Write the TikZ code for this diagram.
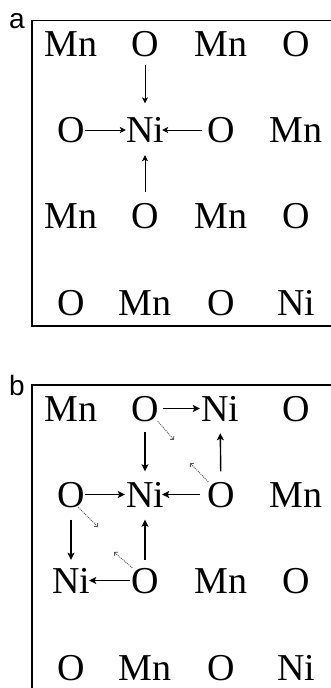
\documentclass[tikz,border=0pt]{standalone}
\usepackage{fontspec}
\setmainfont{Liberation Serif}
\newfontfamily\labelfont{Liberation Sans}
\usetikzlibrary{arrows.meta}
\begin{document}
\begin{tikzpicture}[x=1pt,y=-1pt,
  atom/.style={inner sep=0pt, text height=25pt, text depth=0pt, font=\fontsize{38}{38}\selectfont},
  panellabel/.style={inner sep=0pt, anchor=base west, font=\labelfont\fontsize{28}{28}\selectfont},
  frame/.style={line width=1.4pt},
  arra/.style={line width=0.8pt, -{Stealth[length=6pt,width=6pt,inset=1.5pt]}},
  arrb/.style={line width=1.4pt, -{Stealth[length=7pt,width=7pt,inset=1.5pt]}},
  dotarr/.style={black!65, dash pattern=on 1pt off 1pt, line width=0.9pt, -{Straight Barb[angle=90:3.5pt]}}
]
\useasboundingbox (0,0) rectangle (331,688);

% ---------- panel a ----------
\node[panellabel] (la) at (9,28) {a};
\draw[frame] (331,20.7) -- (32,20.7) -- (32,326) -- (331,326);

\node[atom] (a11) at (71,44) {Mn};
\node[atom] (a12) at (145,44) {O};
\node[atom] (a13) at (221,44) {Mn};
\node[atom] (a14) at (296,44) {O};
\node[atom] (a21) at (71,130) {O};
\node[atom] (a22) at (145,130) {Ni};
\node[atom] (a23) at (221,130) {O};
\node[atom] (a24) at (296,130) {Mn};
\node[atom] (a31) at (71,216) {Mn};
\node[atom] (a32) at (145,216) {O};
\node[atom] (a33) at (221,216) {Mn};
\node[atom] (a34) at (296,216) {O};
\node[atom] (a41) at (71,303) {O};
\node[atom] (a42) at (145,303) {Mn};
\node[atom] (a43) at (221,303) {O};
\node[atom] (a44) at (296,303) {Ni};

\draw[arra, shorten <=8.5pt, shorten >=14pt] (a12) -- (a22);
\draw[arra, shorten <=11.5pt, shorten >=12.5pt] (a32) -- (a22);
\draw[arra, shorten <=0.5pt, shorten >=0pt] (a21) -- (a22);
\draw[arra, shorten <=5pt, shorten >=-2pt] (a23) -- (a22);

% ---------- panel b ----------
\node[panellabel] (lb) at (9,395) {b};
\draw[frame] (331,385) -- (32,385) -- (32,688);

\node[atom] (b11) at (71,408.5) {Mn};
\node[atom] (b12) at (145,408.5) {O};
\node[atom] (b13) at (220,408.5) {Ni};
\node[atom] (b14) at (296,408.5) {O};
\node[atom] (b21) at (71,494.5) {O};
\node[atom] (b22) at (145,494.5) {Ni};
\node[atom] (b23) at (221,494.5) {O};
\node[atom] (b24) at (296,494.5) {Mn};
\node[atom] (b31) at (71,580.5) {Ni};
\node[atom] (b32) at (145,580.5) {O};
\node[atom] (b33) at (221,580.5) {Mn};
\node[atom] (b34) at (296,580.5) {O};
\node[atom] (b41) at (71,667.5) {O};
\node[atom] (b42) at (145,667.5) {Mn};
\node[atom] (b43) at (221,667.5) {O};
\node[atom] (b44) at (296,667.5) {Ni};

% solid arrows
\draw[arrb, shorten <=4pt, shorten >=1pt] (b12) -- (b13);
\draw[arrb, shorten <=11pt, shorten >=10.5pt] (b12) -- (b22);
\draw[arrb, shorten <=10.5pt, shorten >=12pt] (b23) -- (b13);
\draw[arrb, shorten <=0.5pt, shorten >=1pt] (b21) -- (b22);
\draw[arrb, shorten <=7pt, shorten >=-2pt] (b23) -- (b22);
\draw[arrb, shorten <=12.5pt, shorten >=8pt] (b21) -- (b31);
\draw[arrb, shorten <=8pt, shorten >=12.5pt] (b32) -- (b22);
\draw[arrb, shorten <=1pt, shorten >=-1pt] (b32) -- (b31);

% dotted displacement arrows
\coordinate (d1) at (174,440);
\coordinate (d2) at (190,463);
\coordinate (d3) at (98,527);
\coordinate (d4) at (114,552);
\draw[dotarr] (b12.-45) -- (d1);
\draw[dotarr] (b23.135) -- (d2);
\draw[dotarr] (b21.-60) -- (d3);
\draw[dotarr] (b32.135) -- (d4);
\end{tikzpicture}
\end{document}
